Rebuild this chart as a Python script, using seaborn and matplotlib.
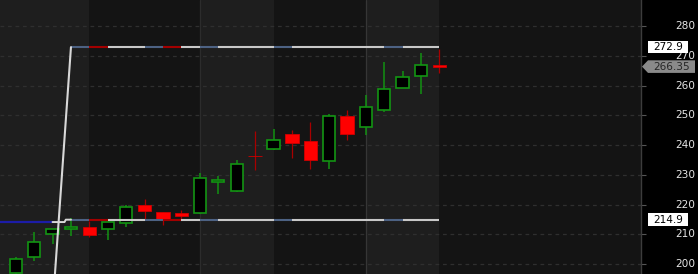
import numpy as np
import pandas as pd
import matplotlib
matplotlib.use("Agg")
import matplotlib.pyplot as plt
from matplotlib.patches import Polygon, Rectangle
from matplotlib.transforms import IdentityTransform
import seaborn as sns

# ---------------- data ----------------
opens  = [197.0, 202.2, 210.0, 211.6, 212.3, 211.7, 213.8, 219.9, 217.4, 217.1, 217.0, 227.7,
          224.7, 236.4, 238.6, 243.6, 241.5, 234.5, 249.7, 245.9, 251.9, 259.3, 263.2, 267.0]
highs  = [202.4, 210.6, 211.8, 215.6, 214.3, 214.2, 219.9, 221.8, 217.5, 218.1, 230.6, 229.5,
          234.9, 244.6, 245.5, 245.2, 247.6, 250.3, 251.7, 256.8, 267.9, 264.8, 271.0, 272.4]
lows   = [195.0, 201.0, 206.7, 209.5, 209.0, 208.0, 212.5, 214.8, 213.2, 215.0, 216.8, 223.6,
          224.3, 231.5, 238.3, 235.7, 231.9, 232.1, 241.8, 243.4, 251.1, 259.2, 257.3, 264.3]
closes = [201.6, 207.4, 211.6, 212.3, 209.8, 214.0, 219.1, 217.9, 215.1, 216.3, 228.8, 228.1,
          233.6, 236.2, 241.8, 240.6, 234.8, 249.6, 243.7, 252.9, 258.8, 262.9, 267.0, 266.35]

range_top = 272.9
range_bottom = 214.9
prior_level = 214.1
spike_start = 185.2
range_start_idx = 3
last_price = 266.35

# colour flag of the range line between bar i and i+1 (starting at bar 3)
segment_flags = ["b", "r", "n", "n", "b", "r", "n", "b", "n", "n",
                 "n", "b", "n", "n", "n", "n", "n", "b", "n", "n"]

session_breaks = [4, 10, 14, 19, 23]
yticks = [200, 210, 220, 230, 240, 250, 260, 270, 280, 290]

# ---------------- style ----------------
sns.set_theme(style="dark")
plt.rcParams["font.family"] = ["DejaVu Sans"]

W, H = 698, 274
fig = plt.figure(figsize=(W / 100, H / 100), dpi=100, facecolor="black")
ax = fig.add_axes([0, 0, 641 / W, 1])
ax.set_facecolor("#141414")

x0_px, step_px = 15.7, 18.42
ax.set_xlim(-x0_px / step_px, (641 - x0_px) / step_px)
ax.set_ylim(200 - 10 / 2.975, 200 + 264 / 2.975)

# background session bands
light = "#1e1e1e"
ax.axvspan(ax.get_xlim()[0], session_breaks[0], color=light, lw=0, zorder=0)
ax.axvspan(session_breaks[1], session_breaks[2], color=light, lw=0, zorder=0)
ax.axvspan(session_breaks[3], session_breaks[4], color=light, lw=0, zorder=0)
ax.axvline(session_breaks[1], color="#2c2c2c", lw=0.9, zorder=0.5)
ax.axvline(session_breaks[3], color="#363636", lw=0.9, zorder=0.5)

# horizontal dashed grid
for t in yticks:
    ax.axhline(t, color="#2f2f2f", lw=0.9, ls=(0, (3, 3)), zorder=0.6)

# ---------------- candles ----------------
df = pd.DataFrame({"o": opens, "h": highs, "l": lows, "c": closes})
df["i"] = np.arange(len(df))
up = df["c"] >= df["o"]

green_edge = "#139413"
green_wick = "#129212"
red_fill = "#ff0000"
red_wick = "#a80000"

ax.vlines(df.loc[up, "i"], df.loc[up, "l"], df.loc[up, "h"], color=green_wick, lw=1.1, zorder=3)
ax.vlines(df.loc[~up, "i"], df.loc[~up, "l"], df.loc[~up, "h"], color=red_wick, lw=0.9, zorder=3)

body_lo = np.minimum(df["o"], df["c"])
body_h = np.maximum(np.abs(df["c"] - df["o"]), 0.25)
ax.bar(df.loc[up, "i"], body_h[up], bottom=body_lo[up], width=0.67,
       color="black", edgecolor=green_edge, linewidth=1.2, zorder=4)
ax.bar(df.loc[~up, "i"], body_h[~up], bottom=body_lo[~up], width=0.74,
       color=red_fill, edgecolor="#d00000", linewidth=0.6, zorder=4)

# ---------------- range lines ----------------
seg_col = {"n": "#c8c8c8", "b": "#4d6283", "r": "#a30000"}
for k, f in enumerate(segment_flags):
    a = range_start_idx + k
    for lvl in (range_top, range_bottom):
        ax.plot([a, a + 1], [lvl, lvl], color=seg_col[f], lw=1.5,
                solid_capstyle="butt", zorder=5)

# prior level (blue) and transition to the range
blue = pd.DataFrame({"x": [-1, 2], "y": [prior_level, prior_level]})
sns.lineplot(data=blue, x="x", y="y", ax=ax, color="#1c1ca8", lw=1.6, zorder=5)
step = pd.DataFrame({"x": [2, 2.65, 2.72, 3], "y": [prior_level, prior_level, range_bottom, range_bottom]})
sns.lineplot(data=step, x="x", y="y", ax=ax, color="#d8d8d8", lw=1.4, zorder=5, sort=False)
spike = pd.DataFrame({"x": [2, 3], "y": [spike_start, range_top]})
sns.lineplot(data=spike, x="x", y="y", ax=ax, color="#d8d8d8", lw=1.5, zorder=6, sort=False)

ax.set_xlabel("")
ax.set_ylabel("")
ax.set_xticks([])

# ---------------- axis ----------------
for s in ("left", "top", "bottom"):
    ax.spines[s].set_visible(False)
ax.spines["right"].set_color("#3c3c3c")
ax.spines["right"].set_linewidth(1.0)
ax.yaxis.tick_right()
ax.set_yticks([t for t in yticks if t < ax.get_ylim()[1]])
ax.tick_params(axis="y", right=True, left=False, labelright=False, labelleft=False,
               length=3.6, width=0.8, color="#555555")
ax.grid(False)

for t in yticks:
    ax.annotate(str(t), xy=(1, t), xycoords=("axes fraction", "data"),
                xytext=(24.5, 0), textcoords="offset points", ha="left", va="center",
                fontsize=7.6, color="#e6e6e6", annotation_clip=False, zorder=10)

# ---------------- price boxes ----------------
def ypix(v):
    return ax.transData.transform((0, v))[1]

tr = IdentityTransform()
for lvl in (range_top, range_bottom):
    yc = ypix(lvl)
    fig.add_artist(Rectangle((648, yc - 6.3), 40, 12.6, transform=tr,
                             facecolor="white", edgecolor="none", zorder=20))
    fig.text(668, yc, f"{lvl:g}", transform=tr, ha="center", va="center",
             fontsize=7.6, color="black", zorder=21)

yc = ypix(last_price)
poly = Polygon([(642, yc), (648, yc + 6.3), (695, yc + 6.3), (695, yc - 6.3), (648, yc - 6.3)],
               closed=True, transform=tr, facecolor="#8a8a8a", edgecolor="none", zorder=20)
fig.add_artist(poly)
fig.text(672, yc, f"{last_price:.2f}", transform=tr, ha="center", va="center",
         fontsize=7.6, color="#262626", zorder=21)

fig.savefig("out.png", dpi=100, facecolor="black")
